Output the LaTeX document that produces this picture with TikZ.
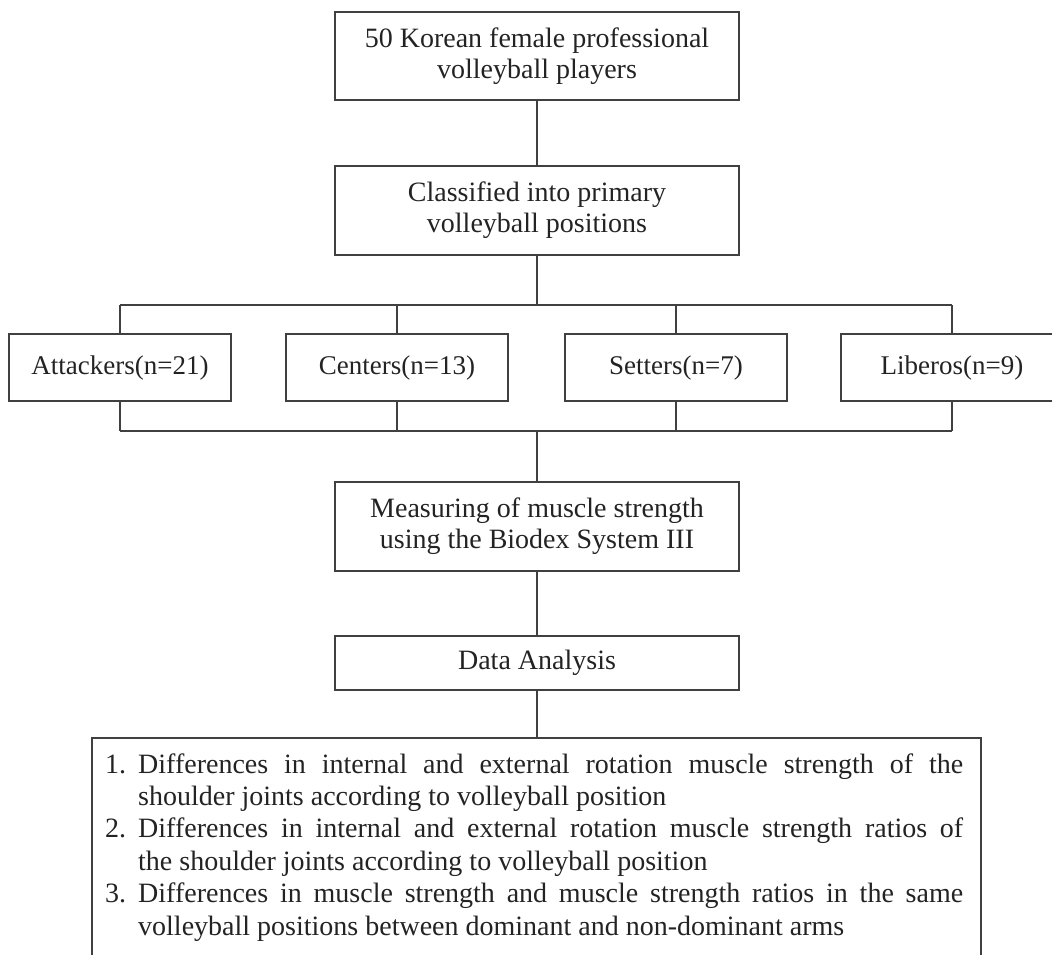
\documentclass[tikz,border=0pt]{standalone}
\usepackage{fontspec}
\setmainfont{Liberation Serif}
\definecolor{linec}{RGB}{64,64,64}
\definecolor{txtc}{RGB}{35,35,35}
\newcommand{\bigf}{\fontsize{28}{31}\selectfont}
\newcommand{\rowf}{\fontsize{27}{31}\selectfont}
\tikzset{
  box/.style={draw=linec, line width=1.3pt, inner sep=0pt, align=center, font=\bigf, text=txtc},
  topbox/.style={box, minimum width=404, minimum height=88},
  posbox/.style={box, minimum width=222, minimum height=67, font=\rowf},
  conn/.style={draw=linec, line width=1.3pt},
  itemline/.style={anchor=base west, inner sep=0pt, font=\bigf, text=txtc}
}
\begin{document}
\begin{tikzpicture}[x=1pt,y=-1pt]
\useasboundingbox (0,0) rectangle (1052,954);
% main column
\node[topbox] (n1) at (537,56) {50 Korean female professional\\volleyball players};
\node[topbox, minimum height=89] (n2) at (537,210.5) {Classified into primary\\volleyball positions};
\coordinate (b) at (537,305);
\node[posbox] (att) at (120,367.5) {Attackers(n=21)};
\node[posbox] (cen) at (397,367.5) {Centers(n=13)};
\node[posbox] (set) at (676,367.5) {Setters(n=7)};
\node[posbox] (lib) at (952,367.5) {Liberos(n=9)};
\coordinate (j) at (537,431);
\node[topbox, minimum height=89] (n3) at (537,526.5) {Measuring of muscle strength\\using the Biodex System III};
\node[topbox, minimum height=54] (n4) at (537,663) {Data Analysis};
\coordinate (rt) at (537,738);
\coordinate (r1) at (92,960);
\coordinate (r2) at (92,738);
\coordinate (r3) at (981,738);
\coordinate (r4) at (981,960);
% connectors
\draw[conn] (n1.south) -- (n2.north);
\draw[conn] (n2.south) -- (b);
\draw[conn] (att.north |- b) -- (lib.north |- b);
\draw[conn] (att.north |- b) -- (att.north);
\draw[conn] (cen.north |- b) -- (cen.north);
\draw[conn] (set.north |- b) -- (set.north);
\draw[conn] (lib.north |- b) -- (lib.north);
\draw[conn] (att.south) -- (att.south |- j);
\draw[conn] (cen.south) -- (cen.south |- j);
\draw[conn] (set.south) -- (set.south |- j);
\draw[conn] (lib.south) -- (lib.south |- j);
\draw[conn] (att.south |- j) -- (lib.south |- j);
\draw[conn] (j) -- (n3.north);
\draw[conn] (n3.south) -- (n4.north);
\draw[conn] (n4.south) -- (rt);
% results box (open at the bottom)
\draw[conn] (r1) -- (r2) -- (r3) -- (r4);
\node[itemline] (l1) at (105,773) {\makebox[858pt][s]{\makebox[33pt][l]{1.}Differences in internal and external rotation muscle strength of the}};
\node[itemline] (l2) at (138,805.4) {shoulder joints according to volleyball position};
\node[itemline] (l3) at (105,837.8) {\makebox[858pt][s]{\makebox[33pt][l]{2.}Differences in internal and external rotation muscle strength ratios of}};
\node[itemline] (l4) at (138,870.2) {the shoulder joints according to volleyball position};
\node[itemline] (l5) at (105,902.6) {\makebox[858pt][s]{\makebox[33pt][l]{3.}Differences in muscle strength and muscle strength ratios in the same}};
\node[itemline] (l6) at (138,935) {volleyball positions between dominant and non-dominant arms};
\end{tikzpicture}
\end{document}
